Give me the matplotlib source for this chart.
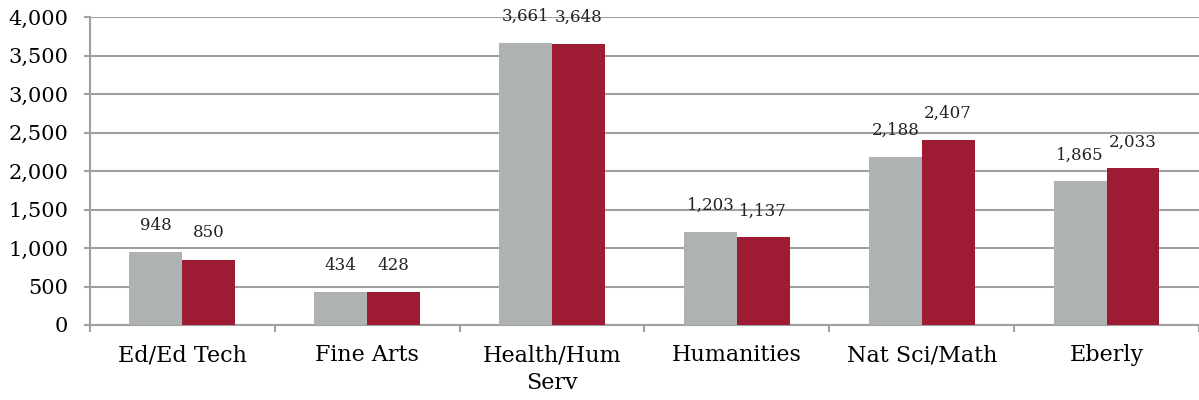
import numpy as np
import matplotlib.pyplot as plt

categories = ["Ed/Ed Tech", "Fine Arts", "Health/Hum\nServ", "Humanities", "Nat Sci/Math", "Eberly"]
series_a = [948, 434, 3661, 1203, 2188, 1865]
series_b = [850, 428, 3648, 1137, 2407, 2033]

gray = "#AFB2B3"
red = "#9E1B34"
grid_col = "#A0A0A0"

plt.rcParams['font.family'] = ['DejaVu Serif']

fig = plt.figure(figsize=(11.99, 4.0), dpi=100)
ax = fig.add_axes([0.075, 0.1875, 0.925, 0.77])

x = np.arange(len(categories))
w = 0.286
bars_a = ax.bar(x - w / 2, series_a, w, color=gray, zorder=3)
bars_b = ax.bar(x + w / 2, series_b, w, color=red, zorder=3)

for bars in (bars_a, bars_b):
    for b in bars:
        ax.annotate(f"{int(b.get_height()):,}",
                    (b.get_x() + b.get_width() / 2, b.get_height()),
                    xytext=(0, 13), textcoords="offset points",
                    ha="center", va="bottom", fontsize=12, color="#222222")

ax.set_ylim(0, 4000)
ax.set_yticks(np.arange(0, 4001, 500))
ax.set_yticklabels([f"{v:,}" for v in range(0, 4001, 500)], fontsize=15)
ax.set_xlim(-0.5, len(categories) - 0.5)
ax.set_xticks(x)
ax.set_xticklabels(categories, fontsize=16, linespacing=1.3)
ax.set_xticks(np.arange(-0.5, len(categories), 1), minor=True)
ax.tick_params(axis="x", which="major", length=0, pad=14)
ax.tick_params(axis="x", which="minor", length=5, color=grid_col, width=1.5)
ax.tick_params(axis="y", length=4.5, color=grid_col, width=1.5, pad=11)

ax.grid(axis="y", color=grid_col, linewidth=1.5, zorder=0)
for s in ("top", "right"):
    ax.spines[s].set_visible(False)
for s in ("left", "bottom"):
    ax.spines[s].set_color(grid_col)
    ax.spines[s].set_linewidth(1.5)

fig.savefig("out.png", dpi=100)
